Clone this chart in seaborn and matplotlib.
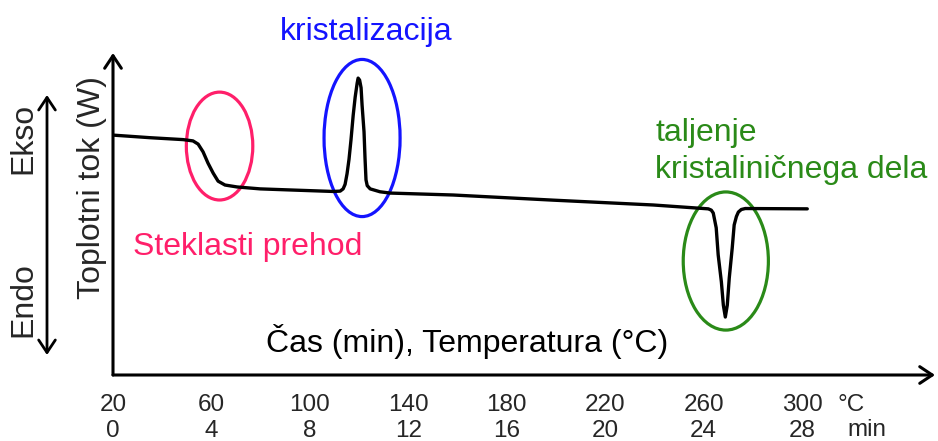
import matplotlib
matplotlib.use("Agg")
import matplotlib.pyplot as plt
from matplotlib.patches import Ellipse
import seaborn as sns
import pandas as pd

# DSC curve: time (min) vs heat flow (arbitrary units, 0-100)
time_min = [0.0, 1.50, 2.85, 3.25, 3.46, 3.66, 3.86, 4.07, 4.27, 4.55, 5.04, 5.98,
            7.07, 8.94, 9.23, 9.35, 9.43, 9.51, 9.59, 9.67, 9.76, 9.84, 9.92, 9.96,
            10.02, 10.08, 10.12, 10.20, 10.24, 10.28, 10.33, 10.45, 10.85, 11.26,
            13.82, 17.89, 21.95, 24.19, 24.31, 24.39, 24.51, 24.59, 24.72, 24.80,
            24.88, 24.96, 25.04, 25.16, 25.24, 25.33, 25.41, 25.53, 25.69, 28.21]
heat_flow = [74.5, 73.7, 73.1, 72.7, 71.7, 69.3, 65.8, 62.7, 60.2, 59.0, 58.4, 57.8,
             57.5, 57.0, 57.1, 57.8, 59.2, 62.5, 67.0, 73.0, 80.7, 86.3, 90.6, 92.2,
             91.6, 89.2, 83.9, 75.5, 67.4, 60.6, 58.8, 57.8, 56.9, 56.5,
             55.9, 54.3, 52.8, 51.6, 51.2, 50.3, 45.7, 37.3, 28.9, 21.7,
             18.0, 21.7, 30.1, 39.4, 46.6, 49.2, 50.6, 51.4, 51.7, 51.6]

# tick labels
tick_min = [0, 4, 8, 12, 16, 20, 24, 28]
tick_temp = [20, 60, 100, 140, 180, 220, 260, 300]

# regions circled on the curve: (centre time, centre flow, width, height)
glass_region = (4.33, 71.1, 2.7, 33.5)
cryst_region = (10.12, 73.6, 3.09, 48.8)
melt_region = (24.9, 35.4, 3.46, 42.9)

pink = "#FF1F6A"
blue = "#1414FF"
green = "#2A8A18"

df = pd.DataFrame({"t": time_min, "q": heat_flow})

sns.set_theme(style="white")
plt.rcParams["font.family"] = ["Liberation Sans", "DejaVu Sans"]

fig = plt.figure(figsize=(9.38, 4.41), dpi=100)
ax = fig.add_axes([113 / 938, 66 / 441, 822 / 938, 322 / 441])

sns.lineplot(data=df, x="t", y="q", color="black", linewidth=2.4, sort=False, ax=ax,
             solid_joinstyle="round", solid_capstyle="round")

ax.set_xlim(0, 33.4)
ax.set_ylim(0, 100)
ax.set_xlabel("")
ax.set_ylabel("")
ax.set_yticks([])
for s in ax.spines.values():
    s.set_visible(False)

ax.set_xticks(tick_min)
ax.set_xticklabels([f"{T}\n{t}" for T, t in zip(tick_temp, tick_min)], fontsize=17.5,
                   linespacing=1.2)
ax.tick_params(axis="x", length=0, pad=14)
ax.annotate("°C", xy=(30.0, 0), xycoords=("data", "axes fraction"),
            xytext=(0, -14), textcoords="offset points", ha="center", va="top", fontsize=17.5)
ax.annotate("min", xy=(30.65, 0), xycoords=("data", "axes fraction"),
            xytext=(0, -14 - 18), textcoords="offset points", ha="center", va="top", fontsize=17.5)

# axis arrows
arrow = dict(arrowstyle="->,head_length=0.45,head_width=0.3", color="black", lw=2.2,
             shrinkA=0, shrinkB=0, mutation_scale=20)
ax.annotate("", xy=(1, 0), xytext=(0, 0), xycoords="axes fraction", arrowprops=arrow)
ax.annotate("", xy=(0, 1), xytext=(0, 0), xycoords="axes fraction", arrowprops=arrow)

# Ekso / Endo double arrow
dbl = dict(arrowstyle="<->,head_length=0.45,head_width=0.3", color="black", lw=2.0,
           shrinkA=0, shrinkB=0, mutation_scale=20)
ax.annotate("", xy=(47, 346), xytext=(47, 86), xycoords="figure pixels", arrowprops=dbl)

fig.text(23 / 938, 1 - 138 / 441, "Ekso", rotation=90, ha="center", va="center", fontsize=23)
fig.text(23 / 938, 1 - 300 / 441, "Endo", rotation=90, ha="center", va="center", fontsize=23)
fig.text(92 / 938, 1 - 188 / 441, "Toplotni tok (W)", rotation=90, ha="center", va="center", fontsize=23)

for (cx, cy, w, h), col in [(glass_region, pink), (cryst_region, blue), (melt_region, green)]:
    ax.add_patch(Ellipse((cx, cy), w, h, fill=False, edgecolor=col, lw=2.3, clip_on=False))

ax.text(10.28, 104.0, "kristalizacija", color=blue, ha="center", va="baseline", fontsize=23, clip_on=False)
ax.text(5.49, 37.3, "Steklasti prehod", color=pink, ha="center", va="baseline", fontsize=23)
ax.text(22.03, 72.7, "taljenje", color=green, ha="left", va="baseline", fontsize=23)
ax.text(22.03, 61.2, "kristaliničnega dela", color=green, ha="left", va="baseline", fontsize=23)
ax.text(14.4, 7.1, "Čas (min), Temperatura (°C)", color="black", ha="center", va="baseline", fontsize=23)

fig.savefig("out.png", dpi=100, facecolor="white")
